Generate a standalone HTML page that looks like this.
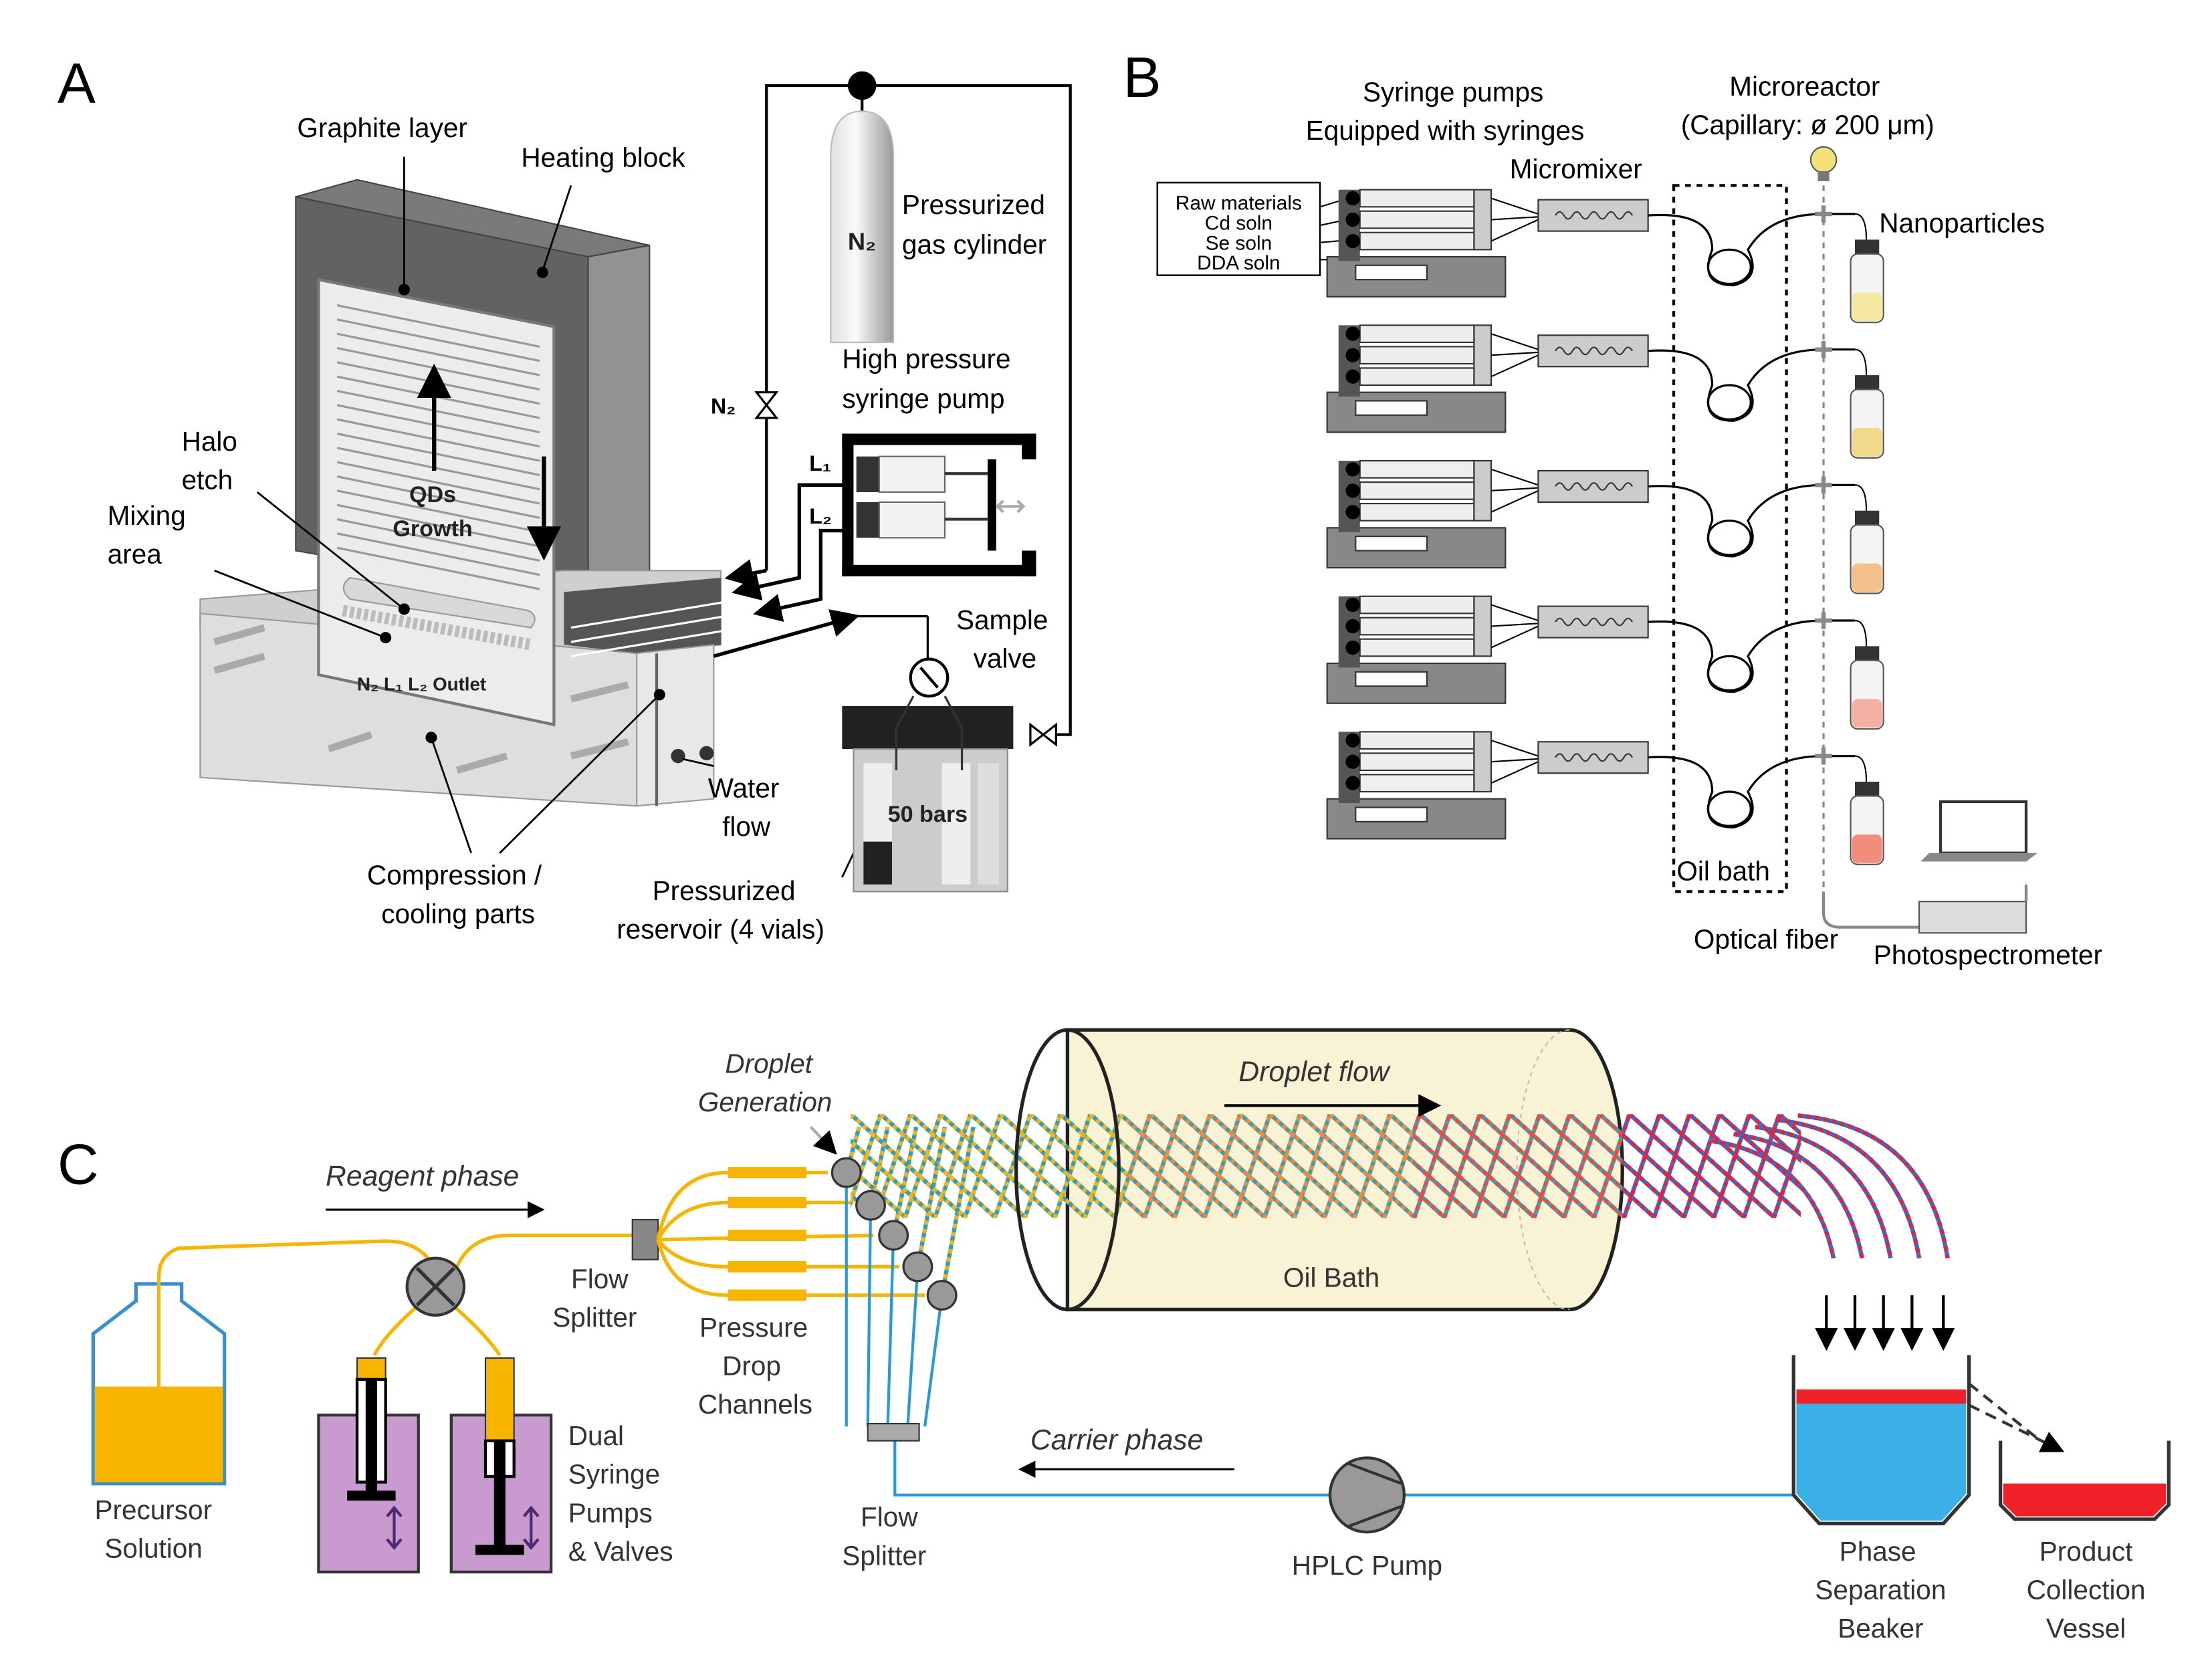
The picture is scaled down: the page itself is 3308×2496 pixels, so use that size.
<!DOCTYPE html>
<html><head><meta charset="utf-8"><style>
html,body{margin:0;padding:0;background:#fff;}
svg{display:block;}
text{font-family:"Liberation Sans",sans-serif;}
</style></head><body>
<svg width="3308" height="2496" viewBox="0 0 1550 1170" xmlns="http://www.w3.org/2000/svg">
<defs>
<linearGradient id="cyl" x1="0" x2="1"><stop offset="0" stop-color="#e0e0e0"/><stop offset="0.4" stop-color="#fafafa"/><stop offset="1" stop-color="#9a9a9a"/></linearGradient>
<marker id="ah" markerWidth="8" markerHeight="8" refX="7" refY="4" orient="auto"><path d="M0,0 L8,4 L0,8 z" fill="#000"/></marker>
<g id="mesh">
<path d="M-84,0 L-3,73 M-63,0 L18,73 M-42,0 L39,73 M-21,0 L60,73 M0,0 L81,73 M21,0 L102,73 M-25,73 L0,0 M-4,73 L21,0 M17,73 L42,0"/>
</g>
<pattern id="p1" patternUnits="userSpaceOnUse" x="596" y="781" width="21" height="73">
<use href="#mesh" stroke="#2f9fb8" stroke-width="3" fill="none"/><use href="#mesh" stroke="#f2b320" stroke-width="3" fill="none" stroke-dasharray="3,3"/></pattern>
<pattern id="p2" patternUnits="userSpaceOnUse" x="596" y="781" width="21" height="73">
<use href="#mesh" stroke="#3aa0b0" stroke-width="3" fill="none"/><use href="#mesh" stroke="#f08a40" stroke-width="3" fill="none" stroke-dasharray="3,3"/></pattern>
<pattern id="p3" patternUnits="userSpaceOnUse" x="596" y="781" width="21" height="73">
<use href="#mesh" stroke="#4a98b0" stroke-width="3" fill="none"/><use href="#mesh" stroke="#f04a3a" stroke-width="3" fill="none" stroke-dasharray="3,3"/></pattern>
<pattern id="p4" patternUnits="userSpaceOnUse" x="596" y="781" width="21" height="73">
<use href="#mesh" stroke="#3a6ac8" stroke-width="3" fill="none"/><use href="#mesh" stroke="#e8203a" stroke-width="3" fill="none" stroke-dasharray="3,3"/></pattern>
</defs>
<rect width="1550" height="1170" fill="#fff"/>

<!-- ================= PANEL A ================= -->
<text x="40" y="72" font-size="40">A</text>
<polygon points="207,138 250,126 455,172 412,180" fill="#7a7a7a" stroke="#444"/>
<polygon points="207,138 412,180 412,422 207,386" fill="#626262" stroke="#444"/>
<polygon points="412,180 455,172 455,418 412,422" fill="#929292" stroke="#444"/>
<polygon points="140,420 395,400 505,400 505,452 446,458 140,440" fill="#cfcfcf" stroke="#999"/>
<polygon points="395,415 505,405 505,452 446,458 395,452" fill="#555"/>
<polygon points="140,430 446,458 446,565 140,545" fill="#dedede" stroke="#999"/>
<polygon points="446,458 500,452 500,560 446,565" fill="#e8e8e8" stroke="#999"/>
<line x1="460" y1="458" x2="460" y2="565" stroke="#666" stroke-width="2"/>
<polygon points="223,196 388,229 388,508 223,473" fill="#ececec" stroke="#777" stroke-width="2"/>
<g stroke="#999" stroke-width="1.5">
<line x1="236" y1="214" x2="378" y2="243"/><line x1="236" y1="224" x2="378" y2="253"/><line x1="236" y1="234" x2="378" y2="263"/>
<line x1="236" y1="244" x2="378" y2="273"/><line x1="236" y1="254" x2="378" y2="283"/><line x1="236" y1="264" x2="378" y2="293"/>
<line x1="236" y1="274" x2="378" y2="303"/><line x1="236" y1="284" x2="378" y2="313"/><line x1="236" y1="294" x2="378" y2="323"/>
<line x1="236" y1="304" x2="378" y2="333"/><line x1="236" y1="314" x2="378" y2="343"/><line x1="236" y1="324" x2="378" y2="353"/>
<line x1="236" y1="334" x2="378" y2="363"/><line x1="236" y1="344" x2="378" y2="373"/><line x1="236" y1="354" x2="378" y2="383"/>
<line x1="236" y1="364" x2="378" y2="393"/><line x1="236" y1="374" x2="378" y2="403"/><line x1="236" y1="384" x2="378" y2="413"/>
</g>
<path d="M245,405 L370,428 Q378,432 372,440 L245,420 Q236,412 245,405 Z" fill="#d8d8d8" stroke="#999"/>
<path d="M240,428 L372,452" stroke="#bbb" stroke-width="8" stroke-dasharray="3,2"/>
<line x1="304" y1="330" x2="304" y2="258" stroke="#000" stroke-width="3" marker-end="url(#ah)"/>
<line x1="381" y1="320" x2="381" y2="390" stroke="#000" stroke-width="3" marker-end="url(#ah)"/>
<text x="303" y="352" font-size="16" font-weight="bold" text-anchor="middle" fill="#222">QDs</text>
<text x="303" y="376" font-size="16" font-weight="bold" text-anchor="middle" fill="#222">Growth</text>
<text x="250" y="484" font-size="13" fill="#222" font-weight="bold">N₂   L₁   L₂  Outlet</text>
<g stroke="#aaa" stroke-width="5" fill="none"><line x1="150" y1="450" x2="185" y2="440"/><line x1="150" y1="470" x2="185" y2="460"/><line x1="230" y1="525" x2="260" y2="515"/><line x1="320" y1="540" x2="355" y2="530"/><line x1="400" y1="530" x2="440" y2="520"/><line x1="400" y1="490" x2="440" y2="480"/></g>
<circle cx="475" cy="530" r="5" fill="#333"/><circle cx="495" cy="528" r="5" fill="#333"/>
<circle cx="283" cy="427" r="4" fill="#000"/><circle cx="270" cy="447" r="4" fill="#000"/><circle cx="302" cy="517" r="4" fill="#000"/><circle cx="462" cy="487" r="4" fill="#000"/>
<circle cx="283" cy="203" r="4" fill="#000"/><circle cx="380" cy="191" r="4" fill="#000"/>
<g stroke="#000" stroke-width="1.3" fill="none">
<line x1="283" y1="110" x2="283" y2="200"/><line x1="400" y1="130" x2="380" y2="190"/>
<line x1="180" y1="345" x2="283" y2="427"/><line x1="150" y1="400" x2="270" y2="447"/>
<line x1="302" y1="517" x2="330" y2="598"/><line x1="462" y1="487" x2="350" y2="598"/>
<line x1="608" y1="577" x2="590" y2="615"/>
<line x1="500" y1="537" x2="478" y2="532"/>
</g>
<text x="208" y="96" font-size="19">Graphite layer</text>
<text x="365" y="117" font-size="19">Heating block</text>
<text x="127" y="316" font-size="19">Halo</text><text x="127" y="343" font-size="19">etch</text>
<text x="75" y="368" font-size="19">Mixing</text><text x="75" y="395" font-size="19">area</text>
<text x="257" y="620" font-size="19">Compression /</text><text x="267" y="647" font-size="19">cooling parts</text>
<text x="496" y="559" font-size="19">Water</text><text x="506" y="586" font-size="19">flow</text>
<text x="457" y="631" font-size="19">Pressurized</text><text x="432" y="658" font-size="19">reservoir (4 vials)</text>
<g stroke="#000" stroke-width="2" fill="none">
<polyline points="537,400 537,60 750,60 750,515 740,515"/>
</g>
<circle cx="604" cy="60" r="10" fill="#000"/>
<line x1="604" y1="60" x2="604" y2="80" stroke="#000" stroke-width="2"/>
<path d="M582,110 Q582,78 604,78 Q626,78 626,110 L626,240 L582,240 Z" fill="url(#cyl)" stroke="#bbb"/>
<text x="594" y="175" font-size="17" font-weight="bold" fill="#222">N₂</text>
<text x="632" y="150" font-size="19">Pressurized</text><text x="632" y="178" font-size="19">gas cylinder</text>
<text x="590" y="258" font-size="19">High pressure</text><text x="590" y="286" font-size="19">syringe pump</text>
<polygon points="530,275 544,275 530,293 544,293" fill="#fff" stroke="#000" stroke-width="1.5"/>
<text x="498" y="290" font-size="15" font-weight="bold">N₂</text>
<!-- syringe pump frame -->
<rect x="590" y="304" width="136" height="8" fill="#000"/>
<rect x="590" y="396" width="136" height="8" fill="#000"/>
<rect x="590" y="304" width="8" height="100" fill="#000"/>
<rect x="716" y="304" width="10" height="18" fill="#000"/>
<rect x="716" y="386" width="10" height="18" fill="#000"/>
<rect x="692" y="322" width="6" height="64" fill="#000"/>
<rect x="600" y="320" width="16" height="25" fill="#333"/>
<rect x="616" y="320" width="46" height="25" fill="#f2f2f2" stroke="#666"/>
<rect x="600" y="352" width="16" height="25" fill="#333"/>
<rect x="616" y="352" width="46" height="25" fill="#f2f2f2" stroke="#666"/>
<line x1="662" y1="332" x2="692" y2="332" stroke="#333" stroke-width="2"/>
<line x1="662" y1="364" x2="692" y2="364" stroke="#333" stroke-width="2"/>
<path d="M700,355 L716,355 M703,351 L699,355 703,359 M713,351 L717,355 713,359" stroke="#aaa" stroke-width="2" fill="none"/>
<text x="567" y="330" font-size="15" font-weight="bold">L₁</text><text x="567" y="367" font-size="15" font-weight="bold">L₂</text>
<g stroke="#000" stroke-width="2.5" fill="none">
<polyline points="598,340 560,340 560,405 515,415" marker-end="url(#ah)"/>
<polyline points="598,372 575,372 575,420 530,430" marker-end="url(#ah)"/>
<line x1="537" y1="400" x2="510" y2="405" marker-end="url(#ah)"/>
<line x1="500" y1="460" x2="600" y2="432" marker-end="url(#ah)"/>
</g>
<g stroke="#fff" stroke-width="1.5"><line x1="400" y1="440" x2="520" y2="420"/><line x1="400" y1="450" x2="520" y2="430"/><line x1="400" y1="460" x2="520" y2="440"/></g>
<line x1="600" y1="432" x2="650" y2="432" stroke="#000" stroke-width="1.5"/>
<line x1="650" y1="432" x2="650" y2="462" stroke="#000" stroke-width="1.5"/>
<circle cx="651" cy="475" r="13" fill="#fff" stroke="#000" stroke-width="2"/>
<line x1="645" y1="468" x2="657" y2="482" stroke="#000" stroke-width="2"/>
<text x="670" y="441" font-size="19">Sample</text><text x="682" y="468" font-size="19">valve</text>
<rect x="590" y="495" width="120" height="30" fill="#222"/>
<rect x="598" y="525" width="108" height="100" fill="#ccc" stroke="#888"/>
<rect x="605" y="535" width="20" height="85" fill="#eee"/><rect x="605" y="590" width="20" height="30" fill="#222"/>
<rect x="660" y="535" width="20" height="85" fill="#eee"/><rect x="685" y="535" width="15" height="85" fill="#ddd"/>
<path d="M640,488 L628,510 L628,540 M662,488 L674,510 L674,540" stroke="#333" stroke-width="1.5" fill="none"/>
<text x="622" y="576" font-size="16" font-weight="bold" fill="#222">50 bars</text>
<polygon points="722,508 722,522 740,508 740,522" fill="#fff" stroke="#000" stroke-width="1.5"/>

<!-- ================= PANEL B ================= -->
<text x="787" y="68" font-size="40">B</text>
<text x="955" y="71" font-size="19">Syringe pumps</text>
<text x="915" y="98" font-size="19">Equipped with syringes</text>
<text x="1212" y="67" font-size="19">Microreactor</text>
<text x="1178" y="94" font-size="19">(Capillary: ø 200 μm)</text>
<text x="1058" y="125" font-size="19">Micromixer</text>
<text x="1317" y="163" font-size="19">Nanoparticles</text>
<rect x="811" y="128" width="114" height="65" fill="#fff" stroke="#000" stroke-width="1.2"/>
<text x="868" y="147" font-size="14" text-anchor="middle">Raw materials</text>
<text x="868" y="161" font-size="14" text-anchor="middle">Cd soln</text>
<text x="868" y="175" font-size="14" text-anchor="middle">Se soln</text>
<text x="868" y="189" font-size="14" text-anchor="middle">DDA soln</text>
<g stroke="#000" stroke-width="1"><line x1="925" y1="145" x2="948" y2="138"/><line x1="925" y1="158" x2="948" y2="153"/><line x1="925" y1="170" x2="948" y2="168"/><line x1="925" y1="182" x2="948" y2="182"/></g>
<rect x="1173" y="130" width="79" height="495" fill="none" stroke="#000" stroke-width="2" stroke-dasharray="4,4"/>
<line x1="1278" y1="130" x2="1278" y2="625" stroke="#888" stroke-width="1.5" stroke-dasharray="4,4"/>
<path d="M1278,625 L1278,640 Q1278,650 1290,650 L1345,650" stroke="#888" stroke-width="2" fill="none"/>
<g id="row">
<rect x="930" y="180" width="125" height="28" fill="#888" stroke="#333"/>
<rect x="950" y="186" width="50" height="10" fill="#fff" stroke="#333"/>
<rect x="938" y="133" width="15" height="50" fill="#555"/>
<rect x="953" y="133" width="80" height="12" fill="#eee" stroke="#333"/>
<rect x="953" y="148" width="80" height="12" fill="#eee" stroke="#333"/>
<rect x="953" y="163" width="80" height="12" fill="#eee" stroke="#333"/>
<rect x="1033" y="133" width="12" height="42" fill="#ccc" stroke="#333"/>
<circle cx="948" cy="139" r="5" fill="#000"/><circle cx="948" cy="154" r="5" fill="#000"/><circle cx="948" cy="169" r="5" fill="#000"/>
<g stroke="#000" fill="none" stroke-width="1"><path d="M1045,139 L1078,150"/><path d="M1045,154 L1078,152"/><path d="M1045,169 L1078,154"/></g>
<rect x="1078" y="140" width="77" height="22" fill="#ccc" stroke="#333"/>
<path d="M1090,151 q3,-5 6,0 t6,0 t6,0 t6,0 t6,0 t6,0 t6,0 t6,0 t6,0" stroke="#333" fill="none"/>
<path d="M1155,151 Q1200,148 1200,175 Q1190,200 1215,200 Q1235,195 1225,175 Q1240,150 1278,150 L1300,150" stroke="#000" stroke-width="1.5" fill="none"/>
<ellipse cx="1212" cy="187" rx="15" ry="12" fill="none" stroke="#000" stroke-width="1.5"/>
<path d="M1272,150 h12 M1278,144 v12" stroke="#888" stroke-width="3"/>
<path d="M1300,150 Q1308,150 1308,168" stroke="#000" fill="none"/>
<rect x="1300" y="168" width="17" height="10" fill="#333"/>
<rect x="1297" y="178" width="23" height="48" rx="5" fill="#f4f4f4" stroke="#555"/>
</g>
<use href="#row" y="95"/><use href="#row" y="190"/><use href="#row" y="285"/><use href="#row" y="380"/>
<rect x="1298" y="205" width="21" height="20" rx="4" fill="#f4e8a0"/>
<rect x="1298" y="300" width="21" height="20" rx="4" fill="#f2d88a"/>
<rect x="1298" y="395" width="21" height="20" rx="4" fill="#f5c08a"/>
<rect x="1298" y="490" width="21" height="20" rx="4" fill="#f4b0a0"/>
<rect x="1298" y="585" width="21" height="20" rx="4" fill="#f28d7c"/>
<text x="1175" y="617" font-size="19">Oil bath</text>
<text x="1187" y="665" font-size="19">Optical fiber</text>
<text x="1313" y="676" font-size="19">Photospectrometer</text>
<rect x="1345" y="632" width="75" height="22" fill="#ddd" stroke="#555"/>
<rect x="1360" y="562" width="60" height="36" fill="#fff" stroke="#333" stroke-width="2"/>
<polygon points="1352,598 1428,598 1420,604 1346,604" fill="#888"/>
<path d="M1420,620 L1420,632" stroke="#888" stroke-width="2"/>
<circle cx="1278" cy="112" r="9" fill="#f3e27a" stroke="#555"/><rect x="1274" y="120" width="8" height="7" fill="#777"/>

<!-- ================= PANEL C ================= -->
<text x="40" y="830" font-size="40">C</text>
<text x="228" y="831" font-size="20" font-style="italic" fill="#333">Reagent phase</text>
<line x1="228" y1="848" x2="380" y2="848" stroke="#000" stroke-width="1.5" marker-end="url(#ah)"/>
<path d="M95,900 L95,912 L65,935 L65,1040 L157,1040 L157,935 L127,912 L127,900 Z" fill="#fff" stroke="#3a8fd0" stroke-width="2.5"/>
<rect x="66" y="972" width="90" height="67" fill="#f7b500"/>
<g stroke="#f7b500" stroke-width="2.5" fill="none">
<path d="M111,972 L111,895 Q111,880 125,875 L270,870 Q295,870 305,890"/>
<path d="M320,888 Q330,865 360,866 L450,866"/>
<path d="M293,915 Q270,935 262,950"/><path d="M317,915 Q340,935 350,950"/>
</g>
<circle cx="305" cy="902" r="20" fill="#999" stroke="#333" stroke-width="2"/>
<path d="M292,889 L318,915 M318,889 L292,915" stroke="#333" stroke-width="2.5"/>
<rect x="223" y="992" width="70" height="110" fill="#c99ad0" stroke="#333" stroke-width="2"/>
<rect x="316" y="992" width="70" height="110" fill="#c99ad0" stroke="#333" stroke-width="2"/>
<rect x="250" y="952" width="20" height="15" fill="#f7b500" stroke="#333"/>
<rect x="250" y="967" width="20" height="72" fill="#fff" stroke="#000" stroke-width="2"/>
<rect x="256" y="967" width="8" height="82" fill="#000"/><rect x="243" y="1045" width="34" height="7" fill="#000"/>
<rect x="340" y="952" width="20" height="58" fill="#f7b500" stroke="#333"/>
<rect x="340" y="1010" width="20" height="25" fill="#fff" stroke="#000" stroke-width="2"/>
<rect x="346" y="1010" width="8" height="78" fill="#000"/><rect x="333" y="1083" width="34" height="7" fill="#000"/>
<g stroke="#4a2a70" stroke-width="2" fill="none"><path d="M276,1058 v26 M271,1063 l5,-6 5,6 M271,1079 l5,6 5,-6"/><path d="M372,1058 v26 M367,1063 l5,-6 5,6 M367,1079 l5,6 5,-6"/></g>
<text x="66" y="1065" font-size="19" fill="#333">Precursor</text><text x="73" y="1092" font-size="19" fill="#333">Solution</text>
<text x="398" y="1013" font-size="19" fill="#333">Dual</text><text x="398" y="1040" font-size="19" fill="#333">Syringe</text>
<text x="398" y="1067" font-size="19" fill="#333">Pumps</text><text x="398" y="1094" font-size="19" fill="#333">&amp; Valves</text>
<rect x="443" y="855" width="18" height="28" fill="#888" stroke="#333"/>
<text x="400" y="903" font-size="19" fill="#333">Flow</text><text x="387" y="930" font-size="19" fill="#333">Splitter</text>
<g stroke="#f7b500" stroke-width="2.5" fill="none">
<path d="M461,869 Q470,822 510,822 L580,822"/><path d="M461,869 Q475,843 510,843 L598,843"/>
<path d="M461,869 L612,866"/><path d="M461,869 Q475,888 510,888 L630,888"/><path d="M461,869 Q470,908 510,908 L648,908"/>
</g>
<g fill="#f7b500"><rect x="510" y="818" width="55" height="8"/><rect x="510" y="839" width="55" height="8"/><rect x="510" y="862" width="55" height="8"/><rect x="510" y="884" width="55" height="8"/><rect x="510" y="904" width="55" height="8"/></g>
<text x="490" y="937" font-size="19" fill="#333">Pressure</text><text x="506" y="964" font-size="19" fill="#333">Drop</text><text x="489" y="991" font-size="19" fill="#333">Channels</text>
<text x="508" y="752" font-size="19" font-style="italic" fill="#333">Droplet</text><text x="489" y="779" font-size="19" font-style="italic" fill="#333">Generation</text>
<line x1="568" y1="790" x2="585" y2="808" stroke="#aaa" stroke-width="2" marker-end="url(#ah)"/>
<g stroke="#2a9ad6" stroke-width="2" fill="none">
<path d="M593,822 L593,1000"/><path d="M610,845 L608,1000"/><path d="M626,866 L622,1000"/><path d="M643,888 L636,1000"/><path d="M660,908 L648,1000"/>
<path d="M627,1010 L627,1048 L1258,1048"/>
</g>
<rect x="608" y="998" width="36" height="12" fill="#aaa" stroke="#333"/>
<text x="603" y="1070" font-size="19" fill="#333">Flow</text><text x="590" y="1097" font-size="19" fill="#333">Splitter</text>
<path d="M748,722 L1100,722 A37,98 0 0 1 1100,918 L748,918 Z" fill="#f8f3d4" stroke="#222" stroke-width="2.5"/>
<path d="M1100,722 A37,98 0 0 0 1100,918" fill="none" stroke="#bbb" stroke-dasharray="3,3"/>
<g stroke="#2f9fb8" stroke-width="3" fill="none">
<path d="M593,822 L602,790"/><path d="M610,845 L622,790"/><path d="M626,866 L642,790"/><path d="M643,888 L662,790"/><path d="M660,908 L682,790"/>
</g>
<g stroke="#f2b320" stroke-width="3" fill="none" stroke-dasharray="3,3">
<path d="M593,822 L602,790"/><path d="M610,845 L622,790"/><path d="M626,866 L642,790"/><path d="M643,888 L662,790"/><path d="M660,908 L682,790"/>
</g>
<rect x="596" y="781" width="194" height="73" fill="url(#p1)"/>
<rect x="790" y="781" width="200" height="73" fill="url(#p2)"/>
<rect x="990" y="781" width="147" height="73" fill="url(#p3)"/>
<rect x="1137" y="781" width="125" height="73" fill="url(#p4)"/>
<g stroke="#3a6ac8" stroke-width="3" fill="none">
<path d="M1200,800 Q1270,810 1285,882"/><path d="M1215,795 Q1290,805 1305,882"/><path d="M1230,790 Q1310,800 1325,882"/><path d="M1245,785 Q1330,795 1345,882"/><path d="M1260,782 Q1350,790 1365,882"/>
</g>
<g stroke="#e8203a" stroke-width="3" fill="none" stroke-dasharray="3,3">
<path d="M1200,800 Q1270,810 1285,882"/><path d="M1215,795 Q1290,805 1305,882"/><path d="M1230,790 Q1310,800 1325,882"/><path d="M1245,785 Q1330,795 1345,882"/><path d="M1260,782 Q1350,790 1365,882"/>
</g>
<ellipse cx="748" cy="820" rx="36" ry="98" fill="none" stroke="#222" stroke-width="2.5"/>
<g fill="#999" stroke="#333" stroke-width="1.5"><circle cx="593" cy="822" r="10"/><circle cx="610" cy="845" r="10"/><circle cx="626" cy="866" r="10"/><circle cx="643" cy="888" r="10"/><circle cx="660" cy="908" r="10"/></g>
<text x="868" y="758" font-size="20" font-style="italic" fill="#333">Droplet flow</text>
<line x1="858" y1="775" x2="1008" y2="775" stroke="#000" stroke-width="2" marker-end="url(#ah)"/>
<text x="933" y="902" font-size="19" fill="#333" text-anchor="middle">Oil Bath</text>
<text x="722" y="1016" font-size="20" font-style="italic" fill="#333">Carrier phase</text>
<line x1="865" y1="1030" x2="715" y2="1030" stroke="#000" stroke-width="1.5" marker-end="url(#ah)"/>
<circle cx="958" cy="1048" r="26" fill="#999" stroke="#333" stroke-width="2"/>
<path d="M945,1026 L982,1040 M945,1070 L982,1056" stroke="#333" stroke-width="2"/>
<text x="958" y="1104" font-size="19" fill="#333" text-anchor="middle">HPLC Pump</text>
<g stroke="#000" stroke-width="2"><line x1="1280" y1="908" x2="1280" y2="945" marker-end="url(#ah)"/><line x1="1300" y1="908" x2="1300" y2="945" marker-end="url(#ah)"/><line x1="1320" y1="908" x2="1320" y2="945" marker-end="url(#ah)"/><line x1="1340" y1="908" x2="1340" y2="945" marker-end="url(#ah)"/><line x1="1362" y1="908" x2="1362" y2="945" marker-end="url(#ah)"/></g>
<path d="M1257,950 L1257,1048 L1275,1068 L1362,1068 L1380,1048 L1380,950" fill="none" stroke="#333" stroke-width="2.5"/>
<path d="M1259,983 L1378,983 L1378,1047 L1361,1066 L1276,1066 L1259,1047 Z" fill="#3ab0e6"/>
<rect x="1259" y="974" width="119" height="10" fill="#f0202a"/>
<path d="M1380,970 L1430,1010 M1380,985 L1445,1017" stroke="#333" stroke-width="2" stroke-dasharray="8,5" marker-end="url(#ah)"/>
<path d="M1402,1010 L1402,1055 L1412,1065 L1510,1065 L1520,1055 L1520,1010" fill="none" stroke="#333" stroke-width="2.5"/>
<path d="M1404,1040 L1518,1040 L1518,1054 L1509,1063 L1413,1063 L1404,1054 Z" fill="#f0202a"/>
<text x="1316" y="1094" font-size="19" fill="#333" text-anchor="middle">Phase</text>
<text x="1318" y="1121" font-size="19" fill="#333" text-anchor="middle">Separation</text>
<text x="1318" y="1148" font-size="19" fill="#333" text-anchor="middle">Beaker</text>
<text x="1462" y="1094" font-size="19" fill="#333" text-anchor="middle">Product</text>
<text x="1462" y="1121" font-size="19" fill="#333" text-anchor="middle">Collection</text>
<text x="1462" y="1148" font-size="19" fill="#333" text-anchor="middle">Vessel</text>
</svg>
</body></html>
